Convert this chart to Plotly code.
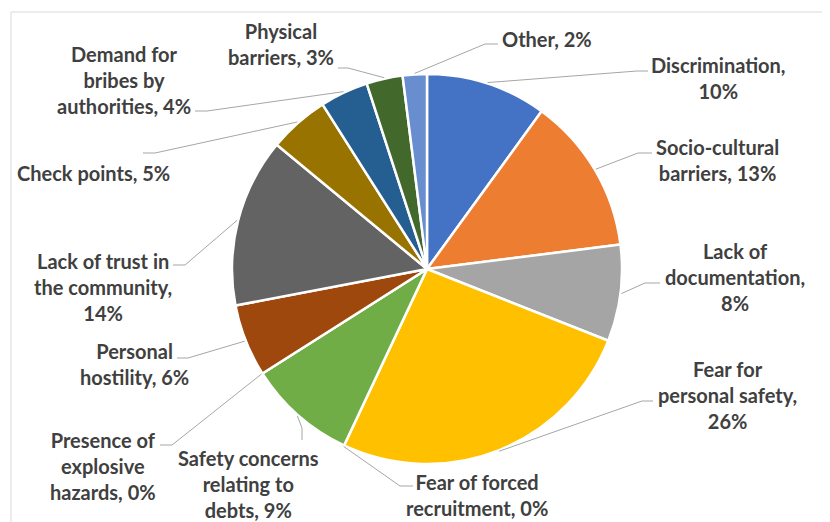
import math
import plotly.graph_objects as go

# ---------------- data ----------------
categories = [
    "Discrimination", "Socio-cultural barriers", "Lack of documentation",
    "Fear for personal safety", "Fear of forced recruitment",
    "Safety concerns relating to debts", "Presence of explosive hazards",
    "Personal hostility", "Lack of trust in the community", "Check points",
    "Demand for bribes by authorities", "Physical barriers", "Other",
]
values = [10, 13, 8, 26, 0, 9, 0, 6, 14, 5, 4, 3, 2]

# ---------------- style / layout ----------------
colors = ["#4472C4", "#ED7D31", "#A5A5A5", "#FFC000", "#5B9BD5", "#70AD47",
          "#264478", "#9E480E", "#636363", "#997300", "#255E91", "#43682B",
          "#698ED0"]
# word indices after which a label wraps
label_breaks = [[0], [0], [1, 2], [1, 3], [2], [1, 3], [1, 2], [0], [3, 5], [],
                [1, 3], [0], []]
# label block centre (window pixels)
label_pos = [(718, 78), (717, 160), (735, 277), (727, 395), (477, 495),
             (249, 484), (103, 466), (134, 364), (103, 287), (93, 173),
             (124, 80), (281, 44), (547, 39)]
# leader line: elbow point and end point (window pixels)
leader = [((637, 71), (648, 71)), ((638, 153), (652, 153)),
          ((645, 283), (660, 283)), ((642, 401), (653, 401)),
          ((400, 486), (413, 486)), ((302, 428), (302, 440)),
          ((172, 445), (160, 445)), ((188, 358), (177, 358)),
          ((185, 265), (173, 265)), ((155, 153), (143, 153)),
          ((207, 111), (195, 111)), ((348, 68), (338, 68)),
          ((485, 44), (498, 44))]

OFF = 8                      # page body margin
W, H = 830 - OFF, 522 - OFF  # figure size that fits the window
CX, CY, R = 427, 269, 195
FONT = "Lato"
TEXT_COLOR = "#404040"
LINE_COLOR = "#A6A6A6"


def px(x):
    return (x - OFF) / W


def py(y):
    return 1 - (y - OFF) / H


fig = go.Figure(go.Pie(
    labels=categories, values=values, sort=False, direction="clockwise",
    rotation=0, textinfo="none", hoverinfo="label+percent",
    marker=dict(colors=colors, line=dict(color="white", width=2.5)),
    domain=dict(x=[px(CX - R), px(CX + R)], y=[py(CY + R), py(CY - R)]),
    showlegend=False,
))

total = sum(values)
cum = 0
shapes = []
annotations = []
for i, (name, v) in enumerate(zip(categories, values)):
    mid = (cum + v / 2) / total
    cum += v
    th = 2 * math.pi * mid
    sx = CX + (R + 1) * math.sin(th)
    sy = CY - (R + 1) * math.cos(th)
    (ex, ey), (hx, hy) = leader[i]
    path = f"M {px(sx)} {py(sy)} L {px(ex)} {py(ey)} L {px(hx)} {py(hy)}"
    shapes.append(dict(type="path", path=path, xref="paper", yref="paper",
                       line=dict(color=LINE_COLOR, width=1)))
    words = f"{name}, {round(100 * v / total)}%".split(" ")
    text = ""
    for j, w in enumerate(words):
        text += w
        if j < len(words) - 1:
            text += "<br>" if j in label_breaks[i] else " "
    lx, ly = label_pos[i]
    annotations.append(dict(x=px(lx), y=py(ly), xref="paper", yref="paper",
                            text=f"<b>{text}</b>", showarrow=False,
                            xanchor="center", yanchor="middle", align="center",
                            font=dict(family=FONT, size=20, color=TEXT_COLOR)))

# chart frame
shapes.append(dict(type="rect", xref="paper", yref="paper",
                   x0=px(11), y0=py(12), x1=px(860), y1=py(560),
                   line=dict(color="#D9D9D9", width=1), layer="below"))

fig.update_layout(
    width=W, height=H, margin=dict(l=0, r=0, t=0, b=0),
    paper_bgcolor="white", plot_bgcolor="white",
    shapes=shapes, annotations=annotations,
)

fig.write_html("out.html")
